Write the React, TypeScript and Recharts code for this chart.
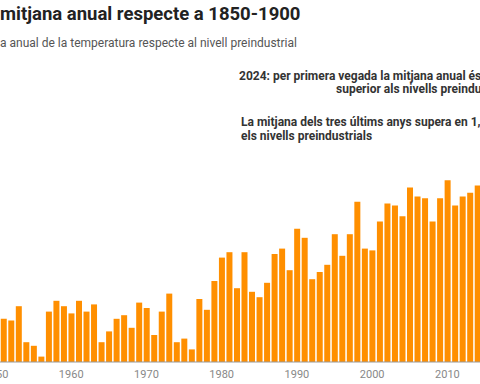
import { BarChart, Bar, XAxis, YAxis } from 'recharts'

const years = [
  1951, 1952, 1953, 1954, 1955, 1956, 1957, 1958, 1959, 1960,
  1961, 1962, 1963, 1964, 1965, 1966, 1967, 1968, 1969, 1970,
  1971, 1972, 1973, 1974, 1975, 1976, 1977, 1978, 1979, 1980,
  1981, 1982, 1983, 1984, 1985, 1986, 1987, 1988, 1989, 1990,
  1991, 1992, 1993, 1994, 1995, 1996, 1997, 1998, 1999, 2000,
  2001, 2002, 2003, 2004, 2005, 2006, 2007, 2008, 2009, 2010,
  2011, 2012, 2013, 2014
]

// anomalia (°C) respecte a 1850-1900
const anomalies = [
  0.24, 0.23, 0.31, 0.11, 0.09, 0.03, 0.28, 0.34, 0.31, 0.27,
  0.34, 0.28, 0.32, 0.11, 0.17, 0.24, 0.26, 0.19, 0.33, 0.30,
  0.15, 0.28, 0.38, 0.11, 0.13, 0.07, 0.35, 0.29, 0.45, 0.58,
  0.61, 0.41, 0.61, 0.39, 0.36, 0.44, 0.60, 0.63, 0.51, 0.74,
  0.69, 0.46, 0.50, 0.54, 0.71, 0.59, 0.71, 0.89, 0.63, 0.62,
  0.78, 0.88, 0.87, 0.81, 0.97, 0.92, 0.91, 0.78, 0.91, 1.01,
  0.87, 0.92, 0.94, 0.98
]

const yearTicks = [1950, 1960, 1970, 1980, 1990, 2000, 2010]

const title = 'mitjana anual respecte a 1850-1900'
const subtitle = 'a anual de la temperatura respecte al nivell preindustrial'
const note1 = ['2024: per primera vegada la mitjana anual és 1,5 °C', 'superior als nivells preindustrials']
const note2 = ['La mitjana dels tres últims anys supera en 1,5 °C', 'els nivells preindustrials']

const chartData = years.map((year, i) => ({ year, value: anomalies[i] }))

const font = 'Roboto, "Noto Sans", sans-serif'

export default function App() {
  const line = (top: number, left: number, text: string) => (
    <div
      style={{
        position: 'absolute',
        top,
        left,
        fontSize: 12,
        lineHeight: '14px',
        fontWeight: 700,
        color: '#333',
        whiteSpace: 'nowrap'
      }}
    >
      {text}
    </div>
  )

  return (
    <div
      style={{
        position: 'fixed',
        top: 0,
        left: 0,
        width: 480,
        height: 384,
        overflow: 'hidden',
        background: '#fff',
        fontFamily: font
      }}
    >
      <div
        style={{
          position: 'absolute',
          top: 4,
          left: 0,
          fontSize: 18.5,
          lineHeight: '20px',
          fontWeight: 700,
          color: '#222',
          whiteSpace: 'nowrap'
        }}
      >
        {title}
      </div>
      <div
        style={{
          position: 'absolute',
          top: 36,
          left: 0,
          fontSize: 12,
          lineHeight: '14px',
          color: '#555',
          whiteSpace: 'nowrap'
        }}
      >
        {subtitle}
      </div>

      {line(69, 239, note1[0])}
      {line(82, 336, note1[1])}
      {line(115, 241, note2[0])}
      {line(129, 241, note2[1])}

      <div style={{ position: 'absolute', top: 0, left: -4.5 }}>
        <BarChart
          width={489}
          height={384}
          data={chartData}
          margin={{ top: 38, right: 0, bottom: 0, left: 0 }}
        >
          <XAxis
            dataKey="year"
            type="number"
            domain={[1950, 2015]}
            ticks={yearTicks}
            interval={0}
            height={22}
            tickLine={false}
            axisLine={{ stroke: '#999' }}
            tick={{ fill: '#888', fontSize: 11, fontFamily: font }}
          />
          <YAxis hide domain={[0, 1.8]} />
          <Bar dataKey="value" fill="#ff8f00" barSize={6} isAnimationActive={false} />
        </BarChart>
      </div>
    </div>
  )
}
